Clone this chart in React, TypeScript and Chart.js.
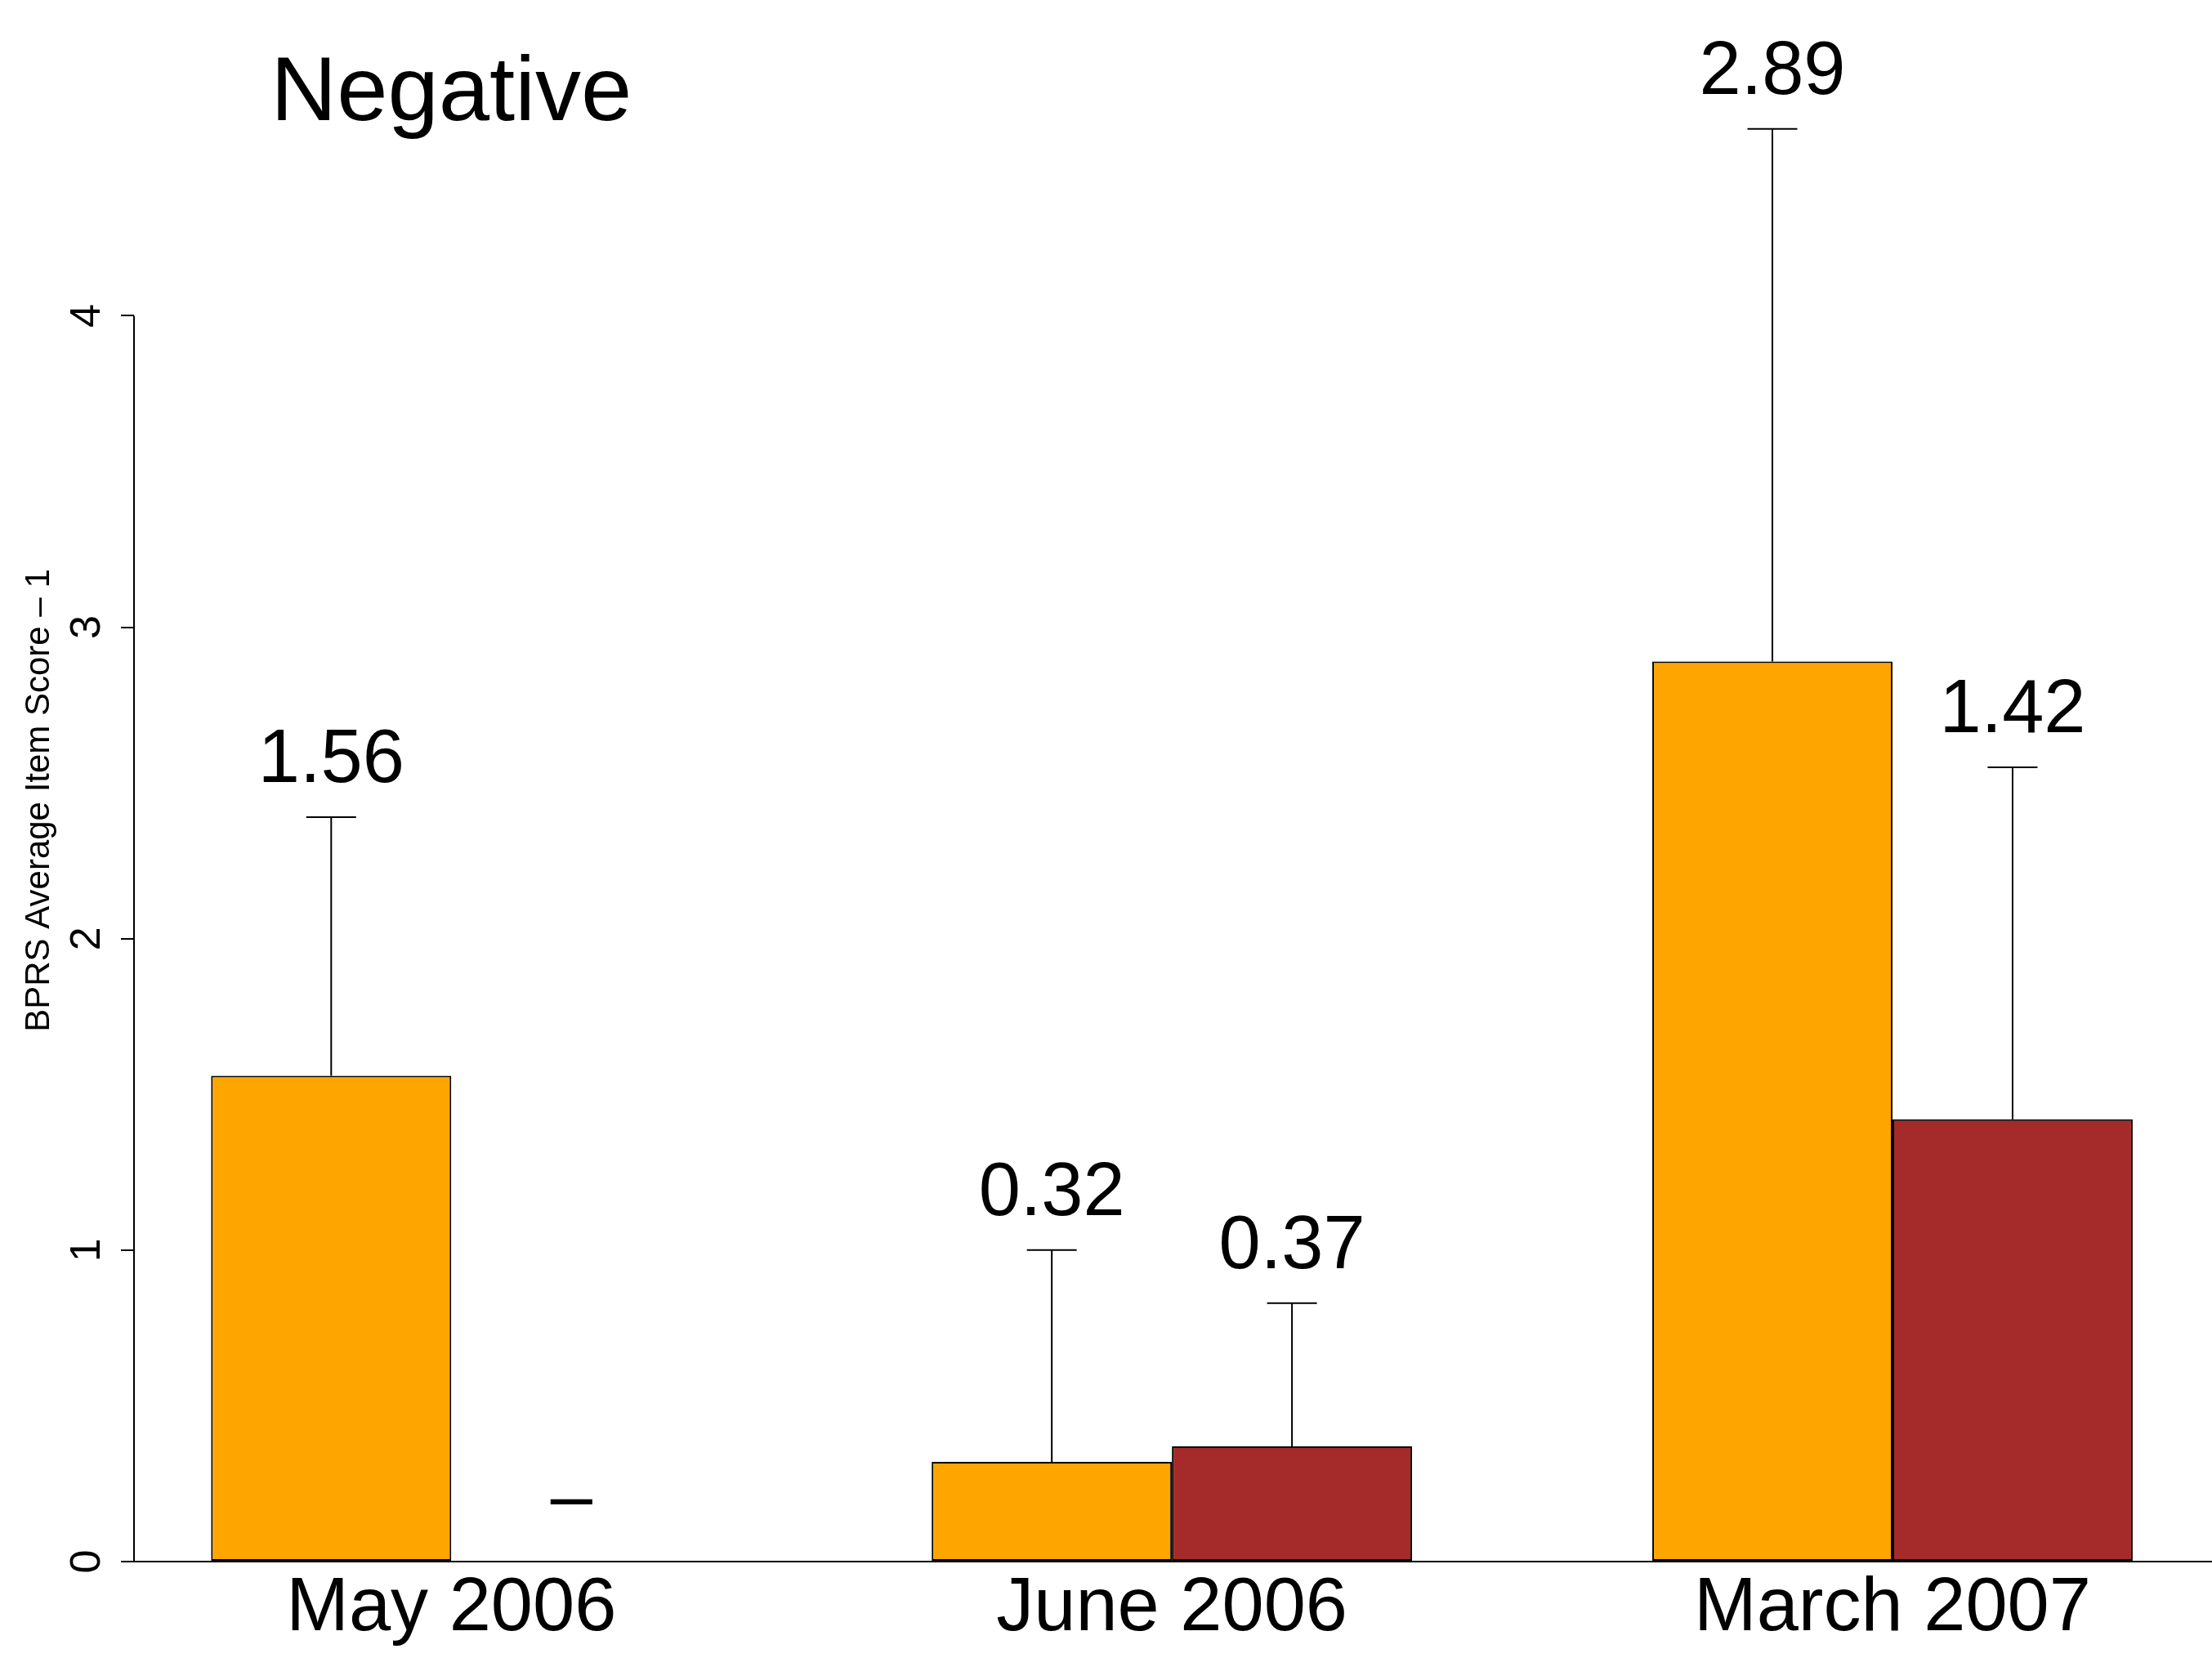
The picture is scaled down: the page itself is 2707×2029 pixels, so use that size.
import React, { useEffect, useRef } from 'react';
import { Chart, registerables } from 'chart.js';

Chart.register(...registerables);

// ---- data ----
const categories = ['May 2006', 'June 2006', 'March 2007'];
const orangeMeans: (number | null)[] = [1.56, 0.32, 2.89];
const orangeSD: (number | null)[] = [0.83, 0.68, 1.71];
const brownMeans: (number | null)[] = [null, 0.37, 1.42];
const brownSD: (number | null)[] = [null, 0.46, 1.13];
const yTickValues = [0, 1, 2, 3, 4];
const panelTitle = 'Negative';
const yAxisTitle = 'BPRS Average Item Score – 1';

// ---- style ----
const W = 2707;
const H = 2029;
const FONT = '"Liberation Sans", Arial, Helvetica, sans-serif';
const ORANGE = '#FFA500';
const BROWN = '#A52A2A';

export default function App() {
  const ref = useRef<HTMLCanvasElement>(null);

  useEffect(() => {
    const canvas = ref.current;
    if (!canvas) return;
    Chart.defaults.font.family = FONT;

    const series = [
      { means: orangeMeans, sds: orangeSD, color: ORANGE },
      { means: brownMeans, sds: brownSD, color: BROWN },
    ];

    const annot = {
      id: 'annot',
      afterDatasetsDraw(chart: any) {
        const { ctx, chartArea } = chart;
        const xs = chart.scales.x;
        const ys = chart.scales.y;
        ctx.save();
        ctx.strokeStyle = '#000';
        ctx.lineWidth = 2;
        // y axis line only over tick range
        ctx.beginPath();
        ctx.moveTo(chartArea.left, ys.getPixelForValue(yTickValues[0]));
        ctx.lineTo(chartArea.left, ys.getPixelForValue(yTickValues[yTickValues.length - 1]));
        ctx.stroke();

        series.forEach((s, di) => {
          const meta = chart.getDatasetMeta(di);
          meta.data.forEach((el: any, i: number) => {
            const m = s.means[i];
            const sd = s.sds[i];
            const x = el.x;
            let topVal = m ?? 0;
            if (m != null && sd != null) {
              topVal = m + sd;
              const yTop = ys.getPixelForValue(topVal);
              ctx.beginPath();
              ctx.moveTo(x, el.y);
              ctx.lineTo(x, yTop);
              ctx.moveTo(x - 30.5, yTop);
              ctx.lineTo(x + 30.5, yTop);
              ctx.stroke();
            }
            ctx.fillStyle = '#000';
            ctx.font = `92px ${FONT}`;
            ctx.textAlign = 'center';
            ctx.textBaseline = 'alphabetic';
            const gap = m == null ? 50 : 43;
            ctx.fillText(m == null ? '–' : m.toFixed(2), x, ys.getPixelForValue(topVal) - gap);
          });
        });

        ctx.font = `112px ${FONT}`;
        ctx.textAlign = 'center';
        ctx.fillText(panelTitle, xs.getPixelForValue(0), 147);
        ctx.restore();
      },
    };

    const chart = new Chart(canvas, {
      type: 'bar',
      data: {
        datasets: series.map((s) => ({
          data: s.means.map((m, i) => ({ x: i, y: m ?? 0 })),
          backgroundColor: s.color,
          borderColor: '#000',
          borderWidth: 2,
          borderSkipped: false,
          categoryPercentage: 2 / 3,
          barPercentage: 1,
        })),
      } as any,
      options: {
        animation: false,
        responsive: false,
        devicePixelRatio: 1,
        layout: { padding: { top: 48, left: 0, right: 0, bottom: 0 } },
        plugins: {
          legend: { display: false },
          tooltip: { enabled: false },
          title: { display: false },
        },
        scales: {
          x: {
            type: 'linear',
            min: -0.4403,
            max: 2.4434,
            offset: false,
            afterBuildTicks: (sc: any) => {
              sc.ticks = categories.map((_, i) => ({ value: i }));
            },
            afterFit: (sc: any) => {
              sc.height = 118;
              sc.paddingLeft = 0;
              sc.paddingRight = 0;
            },
            grid: { display: false, drawTicks: false },
            border: { display: true, color: '#000', width: 2 },
            ticks: {
              callback: (v: any) => categories[v] ?? '',
              font: { size: 92, family: FONT },
              color: '#000',
              padding: 3,
              maxRotation: 0,
              minRotation: 0,
              autoSkip: false,
            },
          },
          y: {
            type: 'linear',
            min: 0,
            max: 4.888,
            afterBuildTicks: (sc: any) => {
              sc.ticks = yTickValues.map((v) => ({ value: v }));
            },
            afterFit: (sc: any) => {
              sc.width = 164;
              sc.paddingTop = 0;
              sc.paddingBottom = 0;
            },
            grid: { drawOnChartArea: false, drawTicks: true, tickLength: 16, color: '#000', lineWidth: 2 },
            border: { display: false },
            ticks: {
              font: { size: 52, family: FONT },
              color: '#000',
              padding: 25.5,
              minRotation: 90,
              maxRotation: 90,
              crossAlign: 'center',
              autoSkip: false,
              callback: (v: any) => String(v),
            },
            title: {
              display: true,
              text: yAxisTitle,
              font: { size: 42, family: FONT },
              color: '#000',
              padding: { top: 23.25, bottom: 0 },
            },
          },
        },
      } as any,
      plugins: [annot],
    });

    return () => chart.destroy();
  }, []);

  return (
    <div style={{ position: 'fixed', left: 0, top: 0, width: W, height: H, background: '#fff' }}>
      <canvas ref={ref} width={W} height={H} style={{ width: W, height: H, display: 'block' }} />
    </div>
  );
}
